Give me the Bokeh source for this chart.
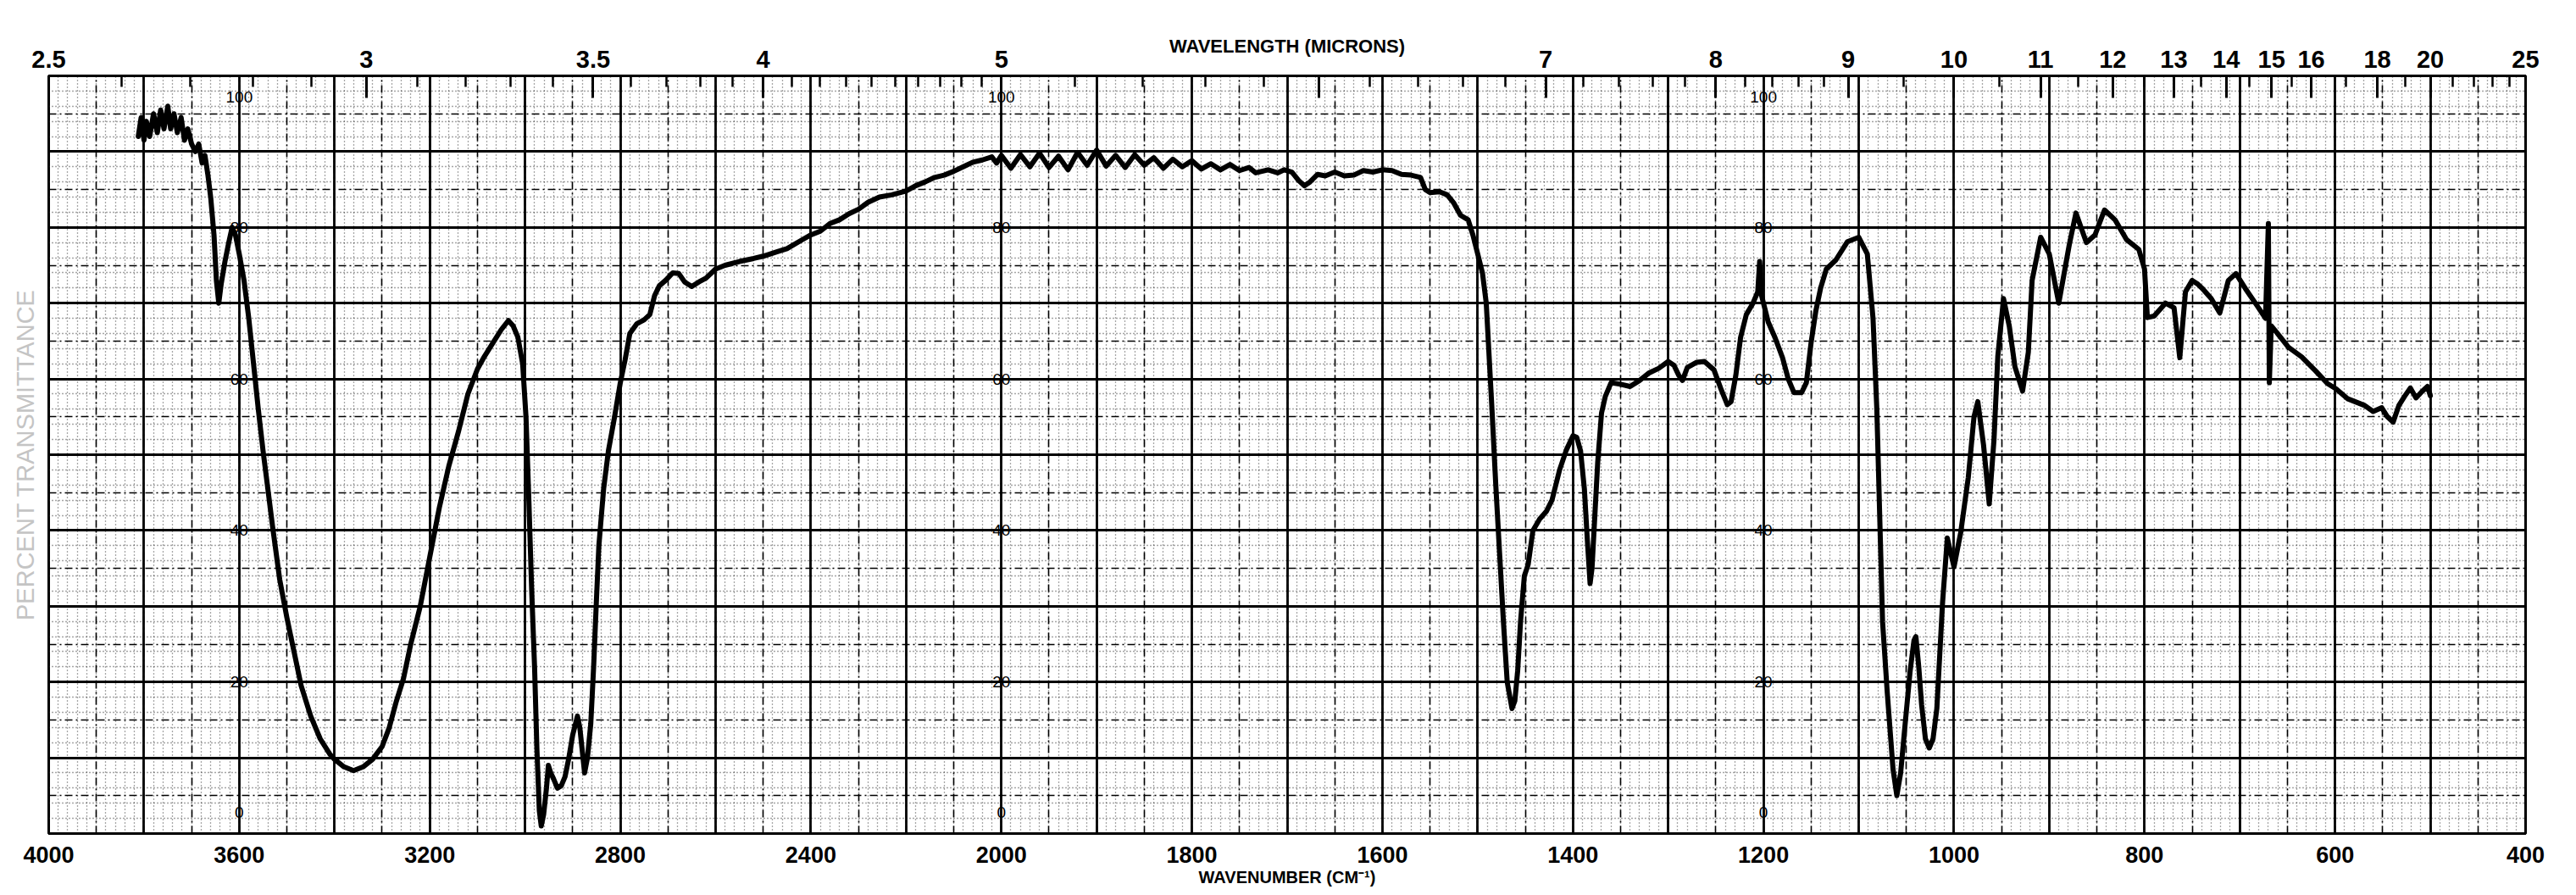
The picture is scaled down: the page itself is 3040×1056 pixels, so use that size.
import numpy as np
from bokeh.plotting import figure
from bokeh.models import (ColumnDataSource, CustomJSTransform, LinearAxis, FixedTicker, Grid,
                          CustomJSTickFormatter, Range1d)
from bokeh.transform import transform
from bokeh.core.properties import value
from bokeh.embed import file_html
from bokeh.resources import INLINE

# ---------------- data ----------------
wavenumber = [
    3812, 3806, 3800, 3795, 3788, 3780, 3772, 3765, 3758, 3750, 3744, 3737, 3730, 3722, 3715, 3708,
    3700, 3692, 3685, 3678, 3672, 3666, 3660, 3653, 3648, 3643, 3638, 3630, 3622, 3615, 3608, 3600,
    3590, 3580, 3570, 3560, 3550, 3540, 3530, 3515, 3500, 3485, 3470, 3450, 3430, 3410, 3400, 3380,
    3360, 3340, 3320, 3300, 3285, 3270, 3255, 3240, 3220, 3200, 3180, 3160, 3140, 3120, 3100, 3085,
    3070, 3050, 3035, 3025, 3015, 3005, 2998, 2992, 2986, 2980, 2975, 2970, 2966, 2961, 2955, 2951,
    2946, 2940, 2932, 2924, 2916, 2908, 2900, 2890, 2885, 2880, 2875, 2869, 2862, 2856, 2850, 2845,
    2835, 2825, 2812, 2800, 2790, 2780, 2765, 2750, 2738, 2728, 2718, 2705, 2690, 2677, 2665, 2650,
    2635, 2620, 2600, 2580, 2550, 2520, 2500, 2470, 2450, 2420, 2400, 2380, 2360, 2340, 2320, 2300,
    2280, 2256, 2230, 2200, 2180, 2160, 2140, 2120, 2100, 2080, 2060, 2040, 2020, 2010, 2000, 1990,
    1980, 1970, 1960, 1950, 1940, 1930, 1920, 1910, 1900, 1890, 1880, 1870, 1860, 1850, 1840, 1830,
    1820, 1810, 1800, 1790, 1780, 1770, 1760, 1750, 1740, 1733, 1720, 1710, 1703, 1695, 1688, 1682,
    1676, 1668, 1660, 1650, 1640, 1630, 1620, 1610, 1600, 1590, 1580, 1570, 1560, 1555, 1550, 1540,
    1532, 1525, 1518, 1510, 1505, 1500, 1495, 1491, 1488, 1485, 1481, 1477, 1473, 1469, 1464, 1461,
    1458, 1455, 1451, 1447, 1442, 1435, 1428, 1422, 1414, 1407, 1400, 1396, 1392, 1388, 1385, 1382,
    1380, 1377, 1374, 1370, 1366, 1360, 1350, 1340, 1330, 1320, 1310, 1300, 1294, 1289, 1285, 1280,
    1270, 1262, 1252, 1245, 1238, 1234, 1229, 1224, 1218, 1211, 1206, 1204, 1202, 1195, 1188, 1180,
    1174, 1168, 1160, 1155, 1150, 1145, 1140, 1134, 1124, 1112, 1100, 1091, 1085, 1081, 1078, 1075,
    1070, 1064, 1060, 1056, 1052, 1046, 1042, 1040, 1037, 1034, 1030, 1026, 1022, 1018, 1012, 1007,
    1000, 993, 985, 979, 975, 969, 963, 958, 954, 948, 942, 936, 928, 922, 918, 909,
    900, 890, 879, 872, 861, 852, 842, 831, 819, 806, 800, 797, 790, 778, 769, 763,
    757, 750, 744, 739, 730, 721, 712, 704, 694, 682, 673, 670, 669, 667, 661, 649,
    635, 620, 608, 599, 587, 569, 560, 551, 545, 539, 533, 527, 521, 515, 509, 503,
    500,
]
transmittance = [
    92.0, 94.5, 91.5, 94.0, 92.0, 95.0, 92.5, 95.5, 93.0, 96.0, 93.0, 95.0, 92.5, 94.5, 91.5, 93.0,
    91.0, 90.0, 91.0, 88.5, 89.5, 87.0, 84.0, 79.0, 73.0, 70.0, 72.5, 75.5, 78.0, 80.0, 79.0, 76.5,
    73.0, 68.0, 62.0, 56.0, 50.5, 45.5, 40.5, 33.5, 28.5, 24.0, 19.5, 15.5, 12.5, 10.5, 9.8, 8.8,
    8.3, 8.8, 9.8, 11.5, 14.0, 17.5, 20.5, 25.0, 30.0, 36.5, 43.0, 48.5, 53.0, 58.0, 61.3, 63.0,
    64.5, 66.5, 67.7, 67.0, 65.5, 62.0, 55.0, 44.0, 32.0, 22.0, 11.0, 3.0, 1.0, 2.5, 6.0, 9.0,
    8.0, 7.2, 6.0, 6.3, 7.5, 10.0, 13.0, 15.5, 14.0, 11.0, 8.0, 10.0, 14.5, 22.0, 31.0, 38.0,
    45.5, 50.5, 55.0, 59.5, 62.5, 66.0, 67.3, 67.8, 68.5, 71.0, 72.3, 73.0, 74.0, 73.9, 72.8, 72.2,
    72.8, 73.3, 74.5, 75.0, 75.5, 75.9, 76.2, 76.8, 77.2, 78.3, 79.0, 79.5, 80.5, 81.0, 81.8, 82.4,
    83.3, 84.0, 84.3, 84.8, 85.5, 86.0, 86.6, 86.9, 87.4, 88.0, 88.6, 88.9, 89.3, 88.5, 89.5, 87.8,
    89.6, 88.0, 89.8, 87.9, 89.4, 87.6, 89.9, 88.2, 90.2, 88.1, 89.5, 87.9, 89.6, 88.2, 89.2, 87.8,
    89.0, 88.0, 88.8, 87.7, 88.4, 87.6, 88.3, 87.5, 87.9, 87.2, 87.6, 87.2, 87.6, 87.3, 86.2, 85.5,
    86.0, 87.0, 86.8, 87.3, 86.8, 86.9, 87.5, 87.3, 87.6, 87.5, 87.0, 86.9, 86.6, 85.0, 84.6, 84.7,
    84.3, 83.2, 81.6, 81.0, 79.0, 76.5, 74.0, 70.0, 63.0, 56.0, 46.0, 37.0, 28.0, 20.0, 16.5, 17.5,
    21.5, 28.0, 34.0, 35.5, 40.0, 41.5, 42.5, 44.0, 48.0, 50.6, 52.5, 52.3, 50.5, 45.5, 39.0, 33.0,
    35.0, 42.0, 49.0, 55.5, 57.7, 59.5, 59.3, 59.0, 59.8, 60.8, 61.4, 62.3, 61.8, 60.5, 59.8, 61.5,
    62.2, 62.3, 61.2, 58.8, 56.6, 57.0, 60.5, 65.5, 68.5, 70.0, 71.5, 75.5, 71.0, 67.5, 65.5, 62.8,
    60.0, 58.2, 58.2, 59.5, 64.8, 69.0, 72.0, 74.5, 75.7, 78.1, 78.7, 76.5, 68.0, 56.0, 42.0, 28.0,
    18.5, 8.5, 5.0, 8.0, 13.5, 21.5, 25.5, 26.0, 22.0, 17.0, 12.5, 11.3, 12.5, 16.5, 30.5, 39.0,
    35.2, 39.7, 47.0, 55.0, 57.0, 51.3, 43.5, 52.0, 63.0, 70.6, 67.0, 61.6, 58.4, 63.5, 73.0, 78.7,
    76.5, 70.0, 77.7, 81.9, 78.0, 79.0, 82.3, 81.0, 78.4, 77.1, 74.5, 68.1, 68.3, 70.0, 69.4, 62.8,
    71.5, 73.0, 72.5, 71.9, 70.6, 68.7, 73.0, 73.9, 71.9, 69.7, 68.0, 80.5, 59.5, 67.0, 66.1, 64.2,
    62.9, 61.0, 59.4, 58.7, 57.4, 56.5, 55.7, 56.2, 55.0, 54.3, 56.5, 57.7, 58.8, 57.5, 58.3, 59.0,
    57.8,
]

bottom_tick_wavenumbers = [4000, 3600, 3200, 2800, 2400, 2000, 1800, 1600, 1400, 1200, 1000, 800, 600, 400]
top_tick_microns = [2.5, 3, 3.5, 4, 5, 6, 7, 8, 9, 10, 11, 12, 13, 14, 15, 16, 18, 20, 25]
top_tick_labels = ["2.5", "3", "3.5", "4", "5", "", "7", "8", "9", "10", "11", "12", "13", "14",
                   "15", "16", "18", "20", "25"]
scale_label_values = [100, 80, 60, 40, 20, 0]
scale_label_columns = [3600, 2000, 1200]

# ---------------- the chart paper's split abscissa ----------------
def paper_u(wn):
    return (4000.0 - wn) / 400.0 if wn >= 2000 else 5.0 + (2000.0 - wn) / 200.0

paper_scale = CustomJSTransform(
    func="const w = x; return w >= 2000 ? (4000 - w) / 400 : 5 + (2000 - w) / 200;",
    v_func="""
const out = new Float64Array(xs.length);
for (let i = 0; i < xs.length; i++) {
  const w = xs[i];
  out[i] = w >= 2000 ? (4000 - w) / 400 : 5 + (2000 - w) / 200;
}
return out;
""")

FONT = "Liberation Sans"

p = figure(width=3040, height=1056, x_range=Range1d(0, 13), y_range=Range1d(0, 100),
           x_axis_type=None, y_axis_type=None, output_backend="svg", toolbar_location=None,
           min_border_left=57, min_border_right=60, min_border_top=89, min_border_bottom=73,
           background_fill_color="white", border_fill_color="white",
           outline_line_color="black", outline_line_width=3)

# ---------------- graph-paper grid ----------------
def add_grid(dim, ticks, color, width, dash, alpha=1.0):
    g = Grid(dimension=dim, ticker=FixedTicker(ticks=list(ticks)), grid_line_color=color,
             grid_line_width=width, grid_line_dash=dash, grid_line_alpha=alpha)
    p.add_layout(g)

add_grid(0, np.round(np.arange(0, 13.0001, 0.05), 4), "#222222", 1.3, "1 3", 0.8)
add_grid(1, np.arange(0, 100.1, 2), "#222222", 1.3, "1 3", 0.8)
add_grid(0, np.round(np.arange(0, 13.0001, 0.25), 4), "black", 1.6, "9 4 2 4")
add_grid(1, np.arange(0, 100.1, 5), "black", 1.6, "9 4 2 4")
add_grid(0, np.round(np.arange(0, 13.0001, 0.5), 4), "black", 2.8, "solid")
add_grid(1, np.arange(0, 100.1, 10), "black", 2.8, "solid")

# ---------------- axes ----------------
nearest_code = """
let b = 0;
for (let i = 0; i < pos.length; i++) { if (Math.abs(pos[i] - tick) < Math.abs(pos[b] - tick)) b = i; }
return lab[b];
"""

bpos = [paper_u(w) for w in bottom_tick_wavenumbers]
ax_b = LinearAxis(ticker=FixedTicker(ticks=bpos),
                  formatter=CustomJSTickFormatter(args=dict(pos=bpos, lab=[str(w) for w in bottom_tick_wavenumbers]),
                                                  code=nearest_code),
                  major_tick_in=0, major_tick_out=0, minor_tick_in=0, minor_tick_out=0,
                  axis_line_color="black", axis_line_width=3, major_label_standoff=15,
                  major_label_text_font=FONT, major_label_text_font_size="27px",
                  major_label_text_font_style="bold", major_label_text_color="black",
                  axis_label="WAVENUMBER (CM\u207b\u00b9)", axis_label_standoff=3,
                  axis_label_text_font=FONT, axis_label_text_font_size="20px",
                  axis_label_text_font_style="bold", axis_label_text_color="black")
p.add_layout(ax_b, "below")

minor_microns = ([m for m in np.round(np.arange(2.6, 5.0, 0.1), 2) if m not in (3.0, 3.5, 4.0)]
                 + [m for m in np.round(np.arange(5.2, 9.0, 0.2), 2) if m not in (6.0, 7.0, 8.0)]
                 + [9.5, 10.5, 11.5, 12.5, 13.5, 14.5, 15.5, 17, 19, 21, 22, 23, 24])
tpos = [paper_u(10000.0 / m) for m in top_tick_microns]
tminor = [paper_u(10000.0 / m) for m in minor_microns]
ax_t = LinearAxis(ticker=FixedTicker(ticks=tpos, minor_ticks=tminor),
                  formatter=CustomJSTickFormatter(args=dict(pos=tpos, lab=top_tick_labels), code=nearest_code),
                  major_tick_in=26, major_tick_out=0, minor_tick_in=13, minor_tick_out=0,
                  major_tick_line_width=3, minor_tick_line_width=2.5,
                  axis_line_color="black", axis_line_width=3, major_label_standoff=10,
                  major_label_text_font=FONT, major_label_text_font_size="29px",
                  major_label_text_font_style="bold", major_label_text_color="black",
                  axis_label="WAVELENGTH (MICRONS)", axis_label_standoff=-10,
                  axis_label_text_font=FONT, axis_label_text_font_size="22px",
                  axis_label_text_font_style="bold", axis_label_text_color="black")
p.add_layout(ax_t, "above")

ax_l = LinearAxis(ticker=FixedTicker(ticks=[]), axis_line_color=None,
                  major_tick_in=0, major_tick_out=0, minor_tick_in=0, minor_tick_out=0,
                  major_label_text_font_size="0px", major_label_standoff=0,
                  axis_label="PERCENT TRANSMITTANCE", axis_label_standoff=12,
                  axis_label_text_font=FONT, axis_label_text_font_size="29px",
                  axis_label_text_font_style="normal", axis_label_text_color="#c4c4c4")
p.add_layout(ax_l, "left")

# ---------------- percent scale printed inside the paper ----------------
lab_wn, lab_y, lab_txt = [], [], []
for c in scale_label_columns:
    for v in scale_label_values:
        lab_wn.append(c)
        lab_y.append(min(max(v, 2.8), 97.2))
        lab_txt.append(str(v))
lab_src = ColumnDataSource(dict(wn=lab_wn, y=lab_y, txt=lab_txt))
p.text(x=transform("wn", paper_scale), y="y", text="txt", source=lab_src,
       text_align="center", text_baseline="middle", text_font=value(FONT),
       text_font_size="19px", text_color="black")

# ---------------- spectrum trace ----------------
src = ColumnDataSource(dict(wn=wavenumber, T=transmittance))
p.line(x=transform("wn", paper_scale), y="T", source=src, line_color="black",
       line_width=6, line_join="round", line_cap="round")

open("out.html", "w").write(file_html(p, INLINE))
